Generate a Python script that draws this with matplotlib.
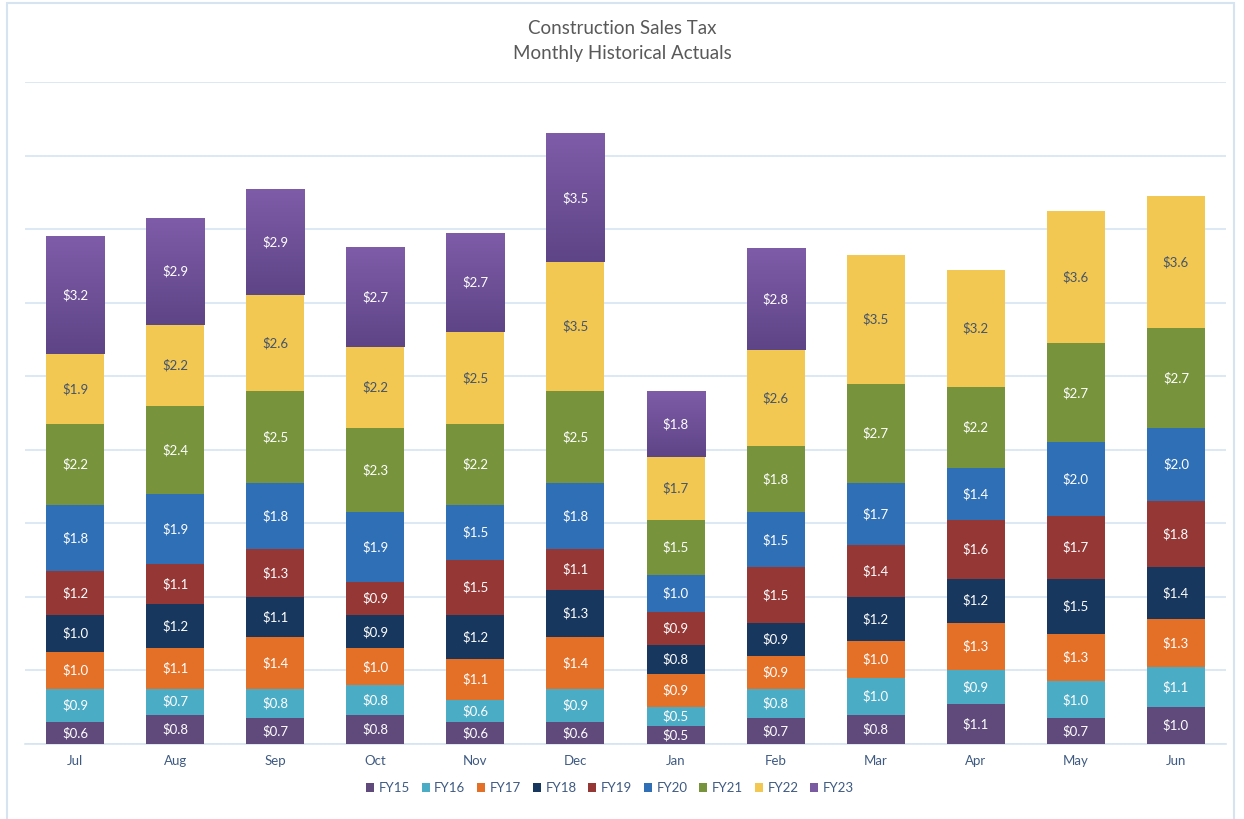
import numpy as np
import matplotlib.pyplot as plt
from matplotlib.colors import LinearSegmentedColormap
from matplotlib.patches import Rectangle

plt.rcParams['font.family'] = ['Lato', 'DejaVu Sans']

months = ["Jul", "Aug", "Sep", "Oct", "Nov", "Dec", "Jan", "Feb", "Mar", "Apr", "May", "Jun"]
series = ["FY15", "FY16", "FY17", "FY18", "FY19", "FY20", "FY21", "FY22", "FY23"]

# monthly actuals, $ millions (FY23 has no data yet for Mar-Jun)
fy15 = [0.6, 0.8, 0.7, 0.8, 0.6, 0.6, 0.5, 0.7, 0.8, 1.1, 0.7, 1.0]
fy16 = [0.9, 0.7, 0.8, 0.8, 0.6, 0.9, 0.5, 0.8, 1.0, 0.9, 1.0, 1.1]
fy17 = [1.0, 1.1, 1.4, 1.0, 1.1, 1.4, 0.9, 0.9, 1.0, 1.3, 1.3, 1.3]
fy18 = [1.0, 1.2, 1.1, 0.9, 1.2, 1.3, 0.8, 0.9, 1.2, 1.2, 1.5, 1.4]
fy19 = [1.2, 1.1, 1.3, 0.9, 1.5, 1.1, 0.9, 1.5, 1.4, 1.6, 1.7, 1.8]
fy20 = [1.8, 1.9, 1.8, 1.9, 1.5, 1.8, 1.0, 1.5, 1.7, 1.4, 2.0, 2.0]
fy21 = [2.2, 2.4, 2.5, 2.3, 2.2, 2.5, 1.5, 1.8, 2.7, 2.2, 2.7, 2.7]
fy22 = [1.9, 2.2, 2.6, 2.2, 2.5, 3.5, 1.7, 2.6, 3.5, 3.2, 3.6, 3.6]
fy23 = [3.2, 2.9, 2.9, 2.7, 2.7, 3.5, 1.8, 2.8, None, None, None, None]

values = [fy15, fy16, fy17, fy18, fy19, fy20, fy21, fy22, fy23]
colors = ["#604A7B", "#4BACC6", "#E46F26", "#17375E", "#953735",
          "#2F6FB5", "#77933C", "#F3C852", "#7A5AA0"]
label_colors = ["white"] * 7 + ["#44546A", "white"]

fig = plt.figure(figsize=(12.44, 8.19), dpi=100)
ax = fig.add_axes([25 / 1244, 1 - 744 / 819, 1201 / 1244, 662 / 819])

x = np.arange(len(months))
width = 0.58
bottom = np.zeros(len(months))
gradient = LinearSegmentedColormap.from_list("fy23", ["#5E4587", "#7F5CA8"])

for name, vals, col, tcol in zip(series, values, colors, label_colors):
    v = np.array([np.nan if a is None else a for a in vals], dtype=float)
    h = np.nan_to_num(v)
    bars = ax.bar(x, h, width, bottom=bottom, color=col, label=name,
                  edgecolor="none", zorder=3)
    for i, b in enumerate(bars):
        if np.isnan(v[i]):
            continue
        if name == "FY23":
            # vertical shade, darker at the bottom
            img = ax.imshow(np.linspace(0, 1, 100).reshape(-1, 1), cmap=gradient,
                            origin="lower", aspect="auto", zorder=3.5,
                            extent=[x[i] - width / 2, x[i] + width / 2,
                                    bottom[i], bottom[i] + h[i]])
            img.set_clip_path(b)
        ax.text(x[i], bottom[i] + h[i] / 2, f"${v[i]:.1f}", ha="center", va="center",
                color=tcol, fontsize=9.5, zorder=4)
    bottom += h

ax.set_xlim(-0.5, len(months) - 0.5)
ax.set_ylim(0, 18)
ax.set_yticks(np.arange(0, 19, 2))
ax.set_yticklabels([])
ax.tick_params(axis="y", length=0)
ax.tick_params(axis="x", length=0, pad=8, labelsize=9.5, labelcolor="#3E5A82")
ax.set_xticks(x)
ax.set_xticklabels(months)
ax.grid(axis="y", color="#D6E4F2", linewidth=1.2, zorder=0)
for s in ["left", "right", "top"]:
    ax.spines[s].set_visible(False)
ax.spines["bottom"].set_color("#D6E4F2")
ax.spines["bottom"].set_linewidth(1.2)

fig.text(0.5, 1 - 28 / 819, "Construction Sales Tax", ha="center", va="center",
         fontsize=13.5, color="#595959")
fig.text(0.5, 1 - 53 / 819, "Monthly Historical Actuals", ha="center", va="center",
         fontsize=13.5, color="#595959")

handles, labels = ax.get_legend_handles_labels()
fig.legend(handles, labels, loc="center", bbox_to_anchor=(610 / 1244, 1 - 788 / 819),
           ncol=9, frameon=False, fontsize=9.5, handlelength=0.6, handleheight=0.6,
           handletextpad=0.35, columnspacing=0.9, labelcolor="#3E5A82")

# chart border
fig.patches.append(Rectangle((7 / 1244, -0.05), 1227 / 1244, 1.05 - 3 / 819,
                             transform=fig.transFigure, fill=False,
                             edgecolor="#D6E4F2", linewidth=1.5))

fig.savefig("out.png", dpi=100)
